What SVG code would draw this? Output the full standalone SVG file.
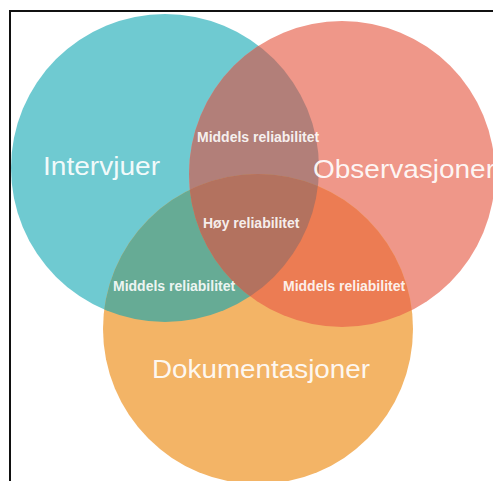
<svg xmlns="http://www.w3.org/2000/svg" width="493" height="481" viewBox="0 0 493 481">
  <style>
    .big { font-family: "Liberation Sans", Arial, sans-serif; font-size: 25px; fill: #FFFFFF; fill-opacity: 0.92; }
    .small { font-family: "Liberation Sans", Arial, sans-serif; font-size: 14px; font-weight: bold; fill: #FFFFFF; fill-opacity: 0.9; }
  </style>
  <defs>
    <circle id="cA" cx="165" cy="168" r="154"/>
    <circle id="cB" cx="342" cy="174" r="153"/>
    <circle id="cC" cx="258" cy="329" r="155"/>
    <clipPath id="clipA"><use href="#cA"/></clipPath>
    <clipPath id="clipB"><use href="#cB"/></clipPath>
  </defs>

  <rect x="0" y="0" width="493" height="481" fill="#FFFFFF"/>

  <!-- frame -->
  <path d="M10,481 V11 H493" fill="none" stroke="#111111" stroke-width="2"/>

  <!-- base sets -->
  <g id="intervjuer">
    <use href="#cA" fill="#6FCAD1"/>
  </g>
  <g id="observasjoner">
    <use href="#cB" fill="#EF9789"/>
  </g>
  <g id="dokumentasjoner">
    <use href="#cC" fill="#F3B466"/>
  </g>

  <!-- pairwise overlaps -->
  <g id="overlap-ab" clip-path="url(#clipA)">
    <use href="#cB" fill="#B27F79"/>
  </g>
  <g id="overlap-ac" clip-path="url(#clipA)">
    <use href="#cC" fill="#66AB95"/>
  </g>
  <g id="overlap-bc" clip-path="url(#clipB)">
    <use href="#cC" fill="#EC7C53"/>
  </g>

  <!-- triple overlap -->
  <g id="overlap-abc" clip-path="url(#clipA)">
    <g clip-path="url(#clipB)">
      <use href="#cC" fill="#B3725F"/>
    </g>
  </g>

  <!-- labels -->
  <g id="labels">
    <text class="big" x="43" y="175" textLength="117" lengthAdjust="spacingAndGlyphs">Intervjuer</text>
    <text class="big" x="313" y="178" textLength="182" lengthAdjust="spacingAndGlyphs">Observasjoner</text>
    <text class="big" x="152" y="378" textLength="218" lengthAdjust="spacingAndGlyphs">Dokumentasjoner</text>
    <text class="small" x="197" y="142">Middels reliabilitet</text>
    <text class="small" x="203" y="228">Høy reliabilitet</text>
    <text class="small" x="113" y="291">Middels reliabilitet</text>
    <text class="small" x="283" y="291">Middels reliabilitet</text>
  </g>
</svg>
